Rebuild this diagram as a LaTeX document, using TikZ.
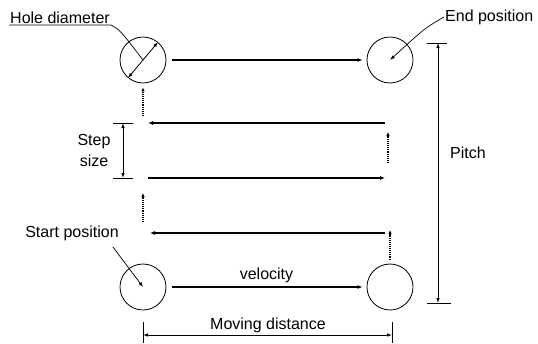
\documentclass[tikz,border=0pt]{standalone}
\usepackage{fontspec}
\setmainfont{Liberation Sans}
\usetikzlibrary{arrows.meta,positioning}

\begin{document}
\begin{tikzpicture}[
    x=1pt, y=-1pt,
    hole/.style={draw, circle, minimum size=46pt, inner sep=0pt, line width=0.8pt},
    arrow/.style={-{Latex[length=5pt,width=4pt]}, line width=1.1pt},
    dotarrow/.style={-{Latex[length=4pt,width=3.5pt]}, densely dotted, line width=1.1pt},
    dim/.style={{Latex[length=5pt,width=3.5pt]}-{Latex[length=5pt,width=3.5pt]}, line width=0.8pt},
    leader/.style={line width=0.7pt},
    lbl/.style={font=\fontsize{16}{21}\selectfont, inner sep=1pt, align=center},
]
    \useasboundingbox (0,0) rectangle (538,343);

    % holes
    \node[hole] (hole) at (143,60) {};
    \node[hole] (endpos) at (390,60) {};
    \node[hole] (startpos) at (143,287) {};
    \node[hole] (lastpos) at (390,287) {};

    % rows of the path
    \coordinate (r1l) at (148,123);
    \coordinate (r1r) at (385,123);
    \coordinate (r2l) at (148,178);
    \coordinate (r2r) at (385,178);
    \coordinate (r3l) at (150,233);
    \coordinate (r3r) at (385,233);

    \draw[arrow, shorten <=6pt, shorten >=4pt] (hole) -- (endpos);
    \draw[arrow] (r1r) -- (r1l);
    \draw[arrow] (r2l) -- (r2r);
    \draw[arrow] (r3r) -- (r3l);
    \draw[arrow, shorten <=6pt, shorten >=4pt] (startpos) -- node[lbl, above=3pt] {velocity} (lastpos);

    % steps
    \coordinate (s1) at (390,230);
    \coordinate (s2a) at (388,163);
    \coordinate (s2b) at (388,132);
    \coordinate (s3a) at (143,222);
    \coordinate (s3b) at (143,193);
    \coordinate (s4) at (143,116);
    \draw[dotarrow, shorten <=4pt] (lastpos) -- (s1);
    \draw[dotarrow] (s2a) -- (s2b);
    \draw[dotarrow] (s3a) -- (s3b);
    \draw[dotarrow, shorten >=4pt] (s4) -- (hole);

    % step size
    \draw[leader] (113,123) coordinate (st1) -- (133,123);
    \draw[leader] (113,178) coordinate (st2) -- (133,178);
    \draw[dim] (123,123) -- (123,178);
    \node[lbl] (steplbl) at (94,150) {Step\\size};

    % pitch
    \draw[leader] (427,43) -- (447,43);
    \draw[leader] (427,303) -- (451,303);
    \draw[dim] (438,43) -- (438,303);
    \node[lbl, anchor=west] (pitchlbl) at (449,153) {Pitch};

    % moving distance
    \draw[leader] (143,322) -- (143,343);
    \draw[leader] (392,322) -- (392,343);
    \draw[dim] (143,335) -- (392,335);
    \node[lbl] (movelbl) at (268,325) {Moving distance};

    % hole diameter
    \node[lbl, anchor=south west] (holelbl) at (9,25) {Hole diameter};
    \draw[leader] (holelbl.south west) -- (holelbl.south east) .. controls (120,30) .. (hole.center);
    \draw[dim] (hole.230) -- (hole.50);

    % end / start position
    \node[lbl, anchor=west] (endlbl) at (444,17) {End position};
    \draw[leader, -{Latex[length=5pt,width=3.5pt]}] (endlbl.west) .. controls (425,28) .. (endpos.center);
    \node[lbl] (startlbl) at (72,233) {Start position};
    \draw[leader, -{Latex[length=5pt,width=3.5pt]}] (113,247) -- (startpos.center);
\end{tikzpicture}
\end{document}
